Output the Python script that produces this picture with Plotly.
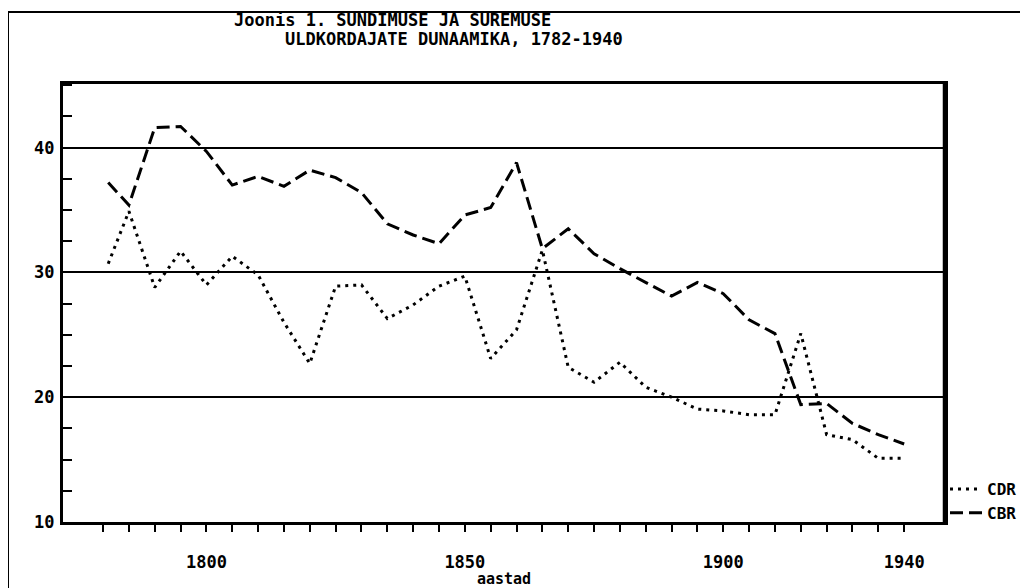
import plotly.graph_objects as go

# perioodid (viieaastakud, esimene 1782-1785)
years = [1781, 1785, 1790, 1795, 1800, 1805, 1810, 1815, 1820, 1825, 1830,
         1835, 1840, 1845, 1850, 1855, 1860, 1865, 1870, 1875, 1880, 1885,
         1890, 1895, 1900, 1905, 1910, 1915, 1920, 1925, 1930, 1935]

# suremuse üldkordaja (promill)
cdr = [30.7, 34.9, 28.8, 31.7, 29.0, 31.3, 29.8, 26.0, 22.7, 28.9, 29.0,
       26.3, 27.4, 28.9, 29.7, 23.1, 25.4, 31.8, 22.4, 21.2, 22.8, 20.8,
       20.0, 19.05, 18.9, 18.6, 18.6, 25.1, 17.0, 16.6, 15.1, 15.1]

# sündimuse üldkordaja (promill)
cbr = [37.2, 35.4, 41.6, 41.7, 39.7, 37.0, 37.7, 36.9, 38.2, 37.6, 36.4,
       33.9, 33.0, 32.3, 34.6, 35.2, 38.8, 31.9, 33.5, 31.5, 30.3, 29.2,
       28.1, 29.2, 28.3, 26.2, 25.1, 19.4, 19.5, 17.9, 17.0, 16.25]

x_ticks = list(range(1780, 1940, 5))
x_label_pos = [1800, 1850, 1900, 1935]
x_label_text = ["1800", "1850", "1900", "1940"]
y_ticks = [10, 20, 30, 40]

FONT = "DejaVu Sans Mono"
labels = dict(zip(x_label_pos, x_label_text))

# joonise ala ekraanil: x 63..945, y 84..522 (lehel on 8px body-serv)
PW, PH = 882, 438


def px(x):
    return (x - 63) / PW


def py(y):
    return (522 - y) / PH


fig = go.Figure()
fig.add_trace(go.Scatter(
    x=years, y=cdr, name="CDR", mode="lines",
    line=dict(color="black", width=3, dash="3px,5px"),
))
fig.add_trace(go.Scatter(
    x=years, y=cbr, name="CBR", mode="lines",
    line=dict(color="black", width=3, dash="13px,6px"),
))

# pealkiri kahes reas, nagu printeri väljatrükil
title_font = dict(family=FONT, size=17, color="black", weight="bold")
fig.add_annotation(
    xref="paper", yref="paper", x=px(232), y=py(20),
    xanchor="left", yanchor="middle", showarrow=False,
    text="Joonis 1. SUNDIMUSE JA SUREMUSE", font=title_font,
)
fig.add_annotation(
    xref="paper", yref="paper", x=px(283), y=py(39),
    xanchor="left", yanchor="middle", showarrow=False,
    text="ULDKORDAJATE DUNAAMIKA, 1782-1940", font=title_font,
)

# lehe raam (üla- ja vasak serv)
fig.add_shape(type="line", xref="paper", yref="paper",
              x0=px(8), y0=py(12), x1=px(1030), y1=py(12),
              line=dict(color="black", width=2))
fig.add_shape(type="line", xref="paper", yref="paper",
              x0=px(8), y0=py(12), x1=px(8), y1=py(590),
              line=dict(color="black", width=2))
# parem telg on trükisel paksem
fig.add_shape(type="line", xref="paper", yref="paper",
              x0=1, y0=0, x1=1, y1=1,
              line=dict(color="black", width=4.5))

fig.update_layout(
    width=1020, height=580,
    margin=dict(l=55, r=83, t=76, b=66, autoexpand=False),
    paper_bgcolor="white", plot_bgcolor="white",
    font=dict(family=FONT, size=17, color="black", weight="bold"),
    showlegend=True,
    legend=dict(
        x=1.0, y=0.114, xanchor="left", yanchor="top",
        bgcolor="rgba(0,0,0,0)", borderwidth=0,
        font=dict(family=FONT, size=16, weight="bold"),
        itemwidth=32, tracegroupgap=0,
    ),
    xaxis=dict(
        range=[1772.25, 1942.9], automargin=False,
        tickmode="array", tickvals=x_ticks,
        ticktext=[labels.get(v, "") for v in x_ticks],
        ticks="outside", ticklen=7, tickwidth=2, tickcolor="black",
        ticklabelstandoff=16,
        showgrid=False, zeroline=False,
        showline=True, linewidth=3, linecolor="black", mirror=True,
        title=dict(text="aastad", standoff=0,
                   font=dict(family=FONT, size=15, weight="bold")),
    ),
    yaxis=dict(
        range=[10, 45.1], automargin=False,
        tickmode="array", tickvals=y_ticks,
        ticks="inside", ticklen=9, tickwidth=2, tickcolor="black",
        ticklabelstandoff=2,
        minor=dict(ticks="inside", ticklen=9, tickwidth=2, tickcolor="black",
                   tickmode="linear", tick0=10, dtick=2.5, showgrid=False),
        showgrid=True, gridcolor="black", gridwidth=2,
        zeroline=False,
        showline=True, linewidth=3, linecolor="black", mirror=True,
    ),
)

fig.write_html("out.html")
